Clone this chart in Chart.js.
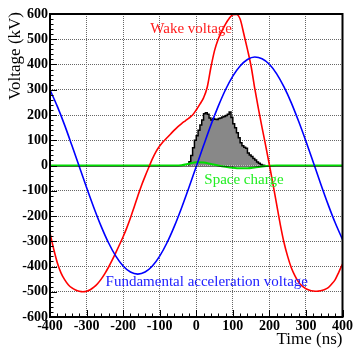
<!DOCTYPE html>
<html>
<head>
<meta charset="utf-8">
<script src="https://cdn.jsdelivr.net/npm/chart.js@4.4.0/dist/chart.umd.min.js"></script>
<style>
html, body { margin: 0; padding: 0; background: #fff; }
</style>
</head>
<body>
<canvas id="c" width="354" height="348"></canvas>
<script>
// Wake voltage [kV] (10 ns step)
const wakeTimes = [
  -400, -390, -380, -370, -360, -350, -340, -330, -320, -310,
  -300, -290, -280, -270, -260, -250, -240, -230, -220, -210,
  -200, -190, -180, -170, -160, -150, -140, -130, -120, -110,
  -100, -90, -80, -70, -60, -50, -40, -30, -20, -10,
  0, 10, 20, 30, 40, 50, 60, 70, 80, 90,
  100, 110, 120, 130, 140, 150, 160, 170, 180, 190,
  200, 210, 220, 230, 240, 250, 260, 270, 280, 290,
  300, 310, 320, 330, 340, 350, 360, 370, 380, 390,
  400
];
const wakeVoltage = [
  -268, -330, -385, -425, -452, -472, -485, -493, -498, -500,
  -498, -492, -482, -468, -450, -428, -403, -375, -345, -314,
  -282, -247, -208, -165, -122, -80, -43, -8, 26, 55,
  77, 95, 110, 125, 140, 154, 166, 177, 188, 200,
  220, 243, 268, 310, 388, 455, 500, 532, 560, 582,
  597, 598, 580, 522, 460, 393, 305, 225, 150, 78,
  3, -75, -155, -235, -305, -360, -405, -437, -462, -478,
  -488, -494, -497, -498, -496, -492, -485, -470, -452, -422,
  -390
];

// 基本波加速電圧 / 空間電荷 [kV] (20 ns step)
const rfTimes = [
  -400, -380, -360, -340, -320, -300, -280, -260, -240, -220,
  -200, -180, -160, -140, -120, -100, -80, -60, -40, -20,
  0, 20, 40, 60, 80, 100, 120, 140, 160, 180,
  200, 220, 240, 260, 280, 300, 320, 340, 360, 380,
  400
];
const rfVoltage = [
  300, 234, 160, 79, -4, -87, -167, -241, -306, -359,
  -398, -422, -430, -422, -398, -359, -306, -241, -167, -87,
  -4, 79, 160, 234, 300, 354, 394, 420, 430, 423,
  401, 363, 311, 248, 175, 96, 13, -71, -152, -227,
  -293
];
const spaceCharge = [
  0, 0, 0, 0, 0, 0, 0, 0, 0, 0,
  0, 0, 0, 0, 0, 0, 0, 0, 1, 7,
  13, 12, 6, 0, -5, -9, -11, -11, -8, -4,
  -1, 0, 0, 0, 0, 0, 0, 0, 0, 0,
  0
];

// バンチ形状ヒストグラム (5 ns bin)
const binEdges = [
  -20, -15, -10, -5, 0, 5, 10, 15, 20, 25,
  30, 35, 40, 45, 50, 55, 60, 65, 70, 75,
  80, 85, 90, 95, 100, 105, 110, 115, 120, 125,
  130, 135, 140, 145, 150, 155, 160, 165, 170, 175,
  180, 185, 190
];
const binContent = [
  3, 15, 40, 70, 100, 118, 140, 160, 180, 205,
  209, 203, 188, 180, 186, 183, 182, 186, 188, 192,
  194, 198, 203, 212, 190, 165, 150, 130, 110, 90,
  78, 72, 68, 50, 42, 36, 28, 22, 14, 9,
  4, 1
];

const SERIF = '"Liberation Serif", "Times New Roman", serif';

const toXY = (xs, ys) => ys.map((y, i) => ({ x: xs[i], y: y }));

// ステップ状にする
const histPoints = [{ x: binEdges[0], y: 0 }]
  .concat(binContent.map((v, i) => ({ x: binEdges[i], y: v })))
  .concat([{ x: binEdges[binEdges.length - 1], y: 0 }]);

// 枠・目盛・注釈
const rootStyle = {
  id: 'rootStyle',
  afterDatasetsDraw(chart) {
    const { ctx, scales: { x, y } } = chart;
    ctx.save();
    ctx.strokeStyle = 'rgba(0,0,0,0.55)';
    ctx.lineWidth = 1;
    const y0 = Math.round(y.getPixelForValue(0)) + 0.5;
    ctx.beginPath();
    ctx.moveTo(x.left, y0);
    ctx.lineTo(x.right, y0);
    ctx.stroke();
    ctx.restore();
  },
  afterDraw(chart) {
    const { ctx, chartArea: a, scales: { x, y } } = chart;
    ctx.save();
    ctx.strokeStyle = '#000';
    ctx.lineWidth = 1;
    ctx.beginPath();
    for (let v = x.min; v <= x.max; v += 20) {
      const px = Math.round(x.getPixelForValue(v)) + 0.5;
      const len = v % 100 === 0 ? 7 : 3.5;
      ctx.moveTo(px, a.bottom);
      ctx.lineTo(px, a.bottom - len);
    }
    for (let v = y.min; v <= y.max; v += 20) {
      const py = Math.round(y.getPixelForValue(v)) + 0.5;
      const len = v % 100 === 0 ? 7 : 3.5;
      ctx.moveTo(a.left, py);
      ctx.lineTo(a.left + len, py);
    }
    ctx.stroke();
    ctx.lineWidth = 2;
    ctx.strokeRect(a.left, a.top, a.right - a.left, a.bottom - a.top);

    ctx.textBaseline = 'middle';
    ctx.font = '15px ' + SERIF;
    ctx.fillStyle = '#ff1a1a';
    ctx.textAlign = 'center';
    ctx.fillText('Wake voltage', x.getPixelForValue(-14), y.getPixelForValue(541));
    ctx.fillStyle = '#22ee22';
    ctx.textAlign = 'left';
    ctx.fillText('Space charge', x.getPixelForValue(22), y.getPixelForValue(-57));
    ctx.fillStyle = '#2020ff';
    ctx.fillText('Fundamental acceleration voltage', x.getPixelForValue(-248), y.getPixelForValue(-460));

    ctx.fillStyle = '#000';
    ctx.font = '17px ' + SERIF;
    ctx.textAlign = 'right';
    ctx.fillText('Time (ns)', a.right, 340);
    ctx.translate(16, a.top - 2);
    ctx.rotate(-Math.PI / 2);
    ctx.fillText('Voltage (kV)', 0, 0);
    ctx.restore();
  }
};

const tickFont = { family: SERIF, size: 14, weight: 'bold' };

new Chart(document.getElementById('c').getContext('2d'), {
  type: 'line',
  data: {
    datasets: [
      {
        label: 'Fundamental acceleration voltage',
        data: toXY(rfTimes, rfVoltage),
        borderColor: '#0000ff',
        borderWidth: 1.6,
        cubicInterpolationMode: 'monotone',
        fill: false
      },
      {
        label: 'Wake voltage',
        data: toXY(wakeTimes, wakeVoltage),
        borderColor: '#ff0000',
        borderWidth: 1.6,
        cubicInterpolationMode: 'monotone',
        fill: false
      },
      {
        label: 'Space charge',
        data: toXY(rfTimes, spaceCharge),
        borderColor: '#00dd00',
        borderWidth: 2,
        cubicInterpolationMode: 'monotone',
        fill: false
      },
      {
        label: 'Bunch',
        data: histPoints,
        stepped: 'after',
        borderColor: '#000',
        borderWidth: 1.5,
        backgroundColor: '#888888',
        fill: 'origin'
      }
    ]
  },
  options: {
    responsive: false,
    animation: false,
    layout: { padding: { top: 14, right: 10, left: 0, bottom: 0 } },
    elements: { point: { radius: 0 } },
    plugins: { legend: { display: false }, tooltip: { enabled: false } },
    scales: {
      x: {
        type: 'linear',
        min: -400,
        max: 400,
        ticks: { stepSize: 100, autoSkip: false, maxRotation: 0, padding: 1, color: '#000', font: tickFont },
        grid: { color: '#666', drawTicks: false },
        border: { display: false, dash: [1, 1] },
        afterFit: s => { s.height = 31; }
      },
      y: {
        min: -600,
        max: 600,
        ticks: { stepSize: 100, autoSkip: false, padding: 2, color: '#000', font: tickFont },
        grid: { color: '#666', drawTicks: false },
        border: { display: false, dash: [1, 1] },
        afterFit: s => { s.width = 50; }
      }
    }
  },
  plugins: [rootStyle]
});
</script>
</body>
</html>
